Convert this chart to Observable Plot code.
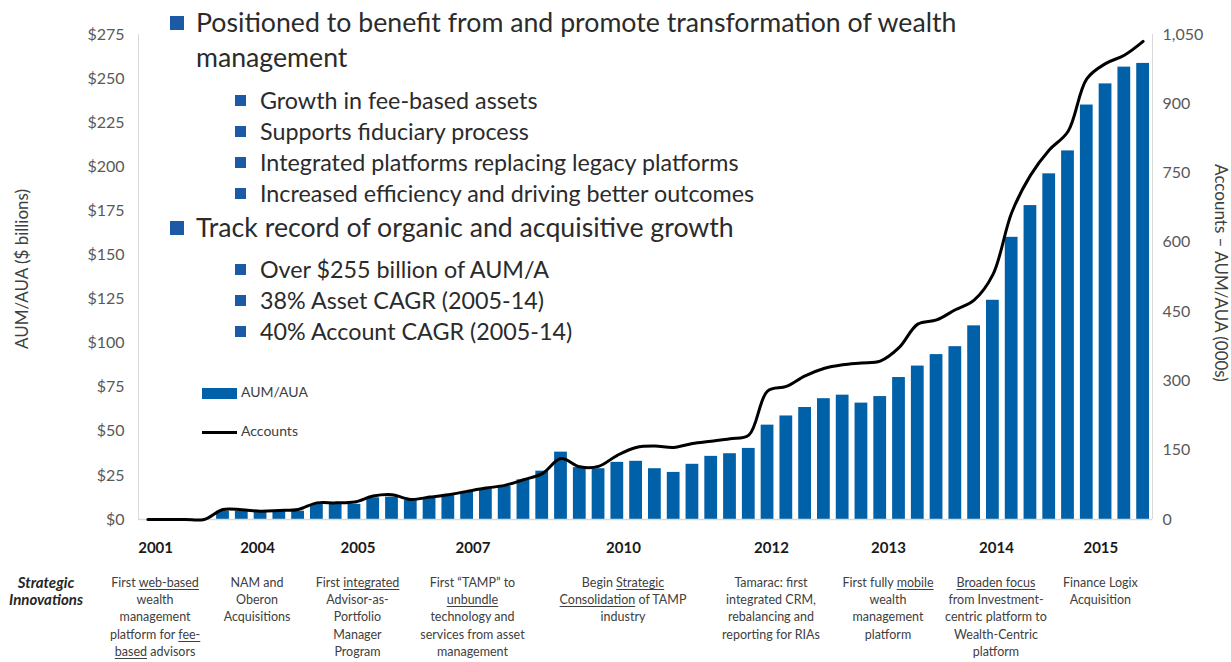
<!DOCTYPE html>
<html>
<head>
<meta charset="utf-8">
<script src="https://cdn.jsdelivr.net/npm/d3@7"></script>
<script src="https://cdn.jsdelivr.net/npm/@observablehq/plot@0.6"></script>
<style>
  html, body { margin: 0; padding: 0; background: #fff; }
  #wrap { position: relative; width: 1231px; height: 662px; overflow: hidden; font-family: Lato, "Open Sans", sans-serif; }
  #wrap svg { position: absolute; left: 0; top: 0; }
  .bullets { position: absolute; left: 0; top: 4.5px; color: #2b2b2b; }
  .l1 { position: relative; height: 35px; line-height: 35px; font-size: 26.7px; padding-left: 196px; white-space: nowrap; }
  .l2 { position: relative; height: 31px; line-height: 31px; font-size: 23.3px; padding-left: 260px; white-space: nowrap; }
  .l1.sq::before { content: ""; position: absolute; left: 170px; top: 11px; width: 14px; height: 14px; background: #1c5aa8; }
  .l2::before { content: ""; position: absolute; left: 235px; top: 10.5px; width: 11px; height: 11px; background: #1c5aa8; }
  .gapA { margin-top: 10px; }
  .gapB { margin-top: 1px; }
  .gapC { margin-top: 9px; }
  .legend { position: absolute; left: 202px; font-size: 14px; color: #404040; line-height: 20px; }
  .legend .sw { display: inline-block; vertical-align: middle; width: 35px; margin-right: 4px; }
  .innov { position: absolute; top: 574px; transform: translateX(-50%); text-align: center; white-space: nowrap; font-size: 12.5px; line-height: 17.2px; color: #404040; }
  .innov u { text-decoration-thickness: 1px; text-underline-offset: 2px; }
  .strat { position: absolute; left: 46px; top: 574px; transform: translateX(-50%); text-align: center; font-size: 15px; line-height: 17.2px; font-weight: bold; font-style: italic; color: #262626; }
</style>
</head>
<body>
<div id="wrap"></div>
<script>
// ---- data ----
const periods = d3.range(54); // quarterly/annual periods, 2001 .. 2015
const aumBillions = [0,0,0,0,4.7,4.7,4.4,4.7,4.7,8.5,8.5,8.6,12.3,12.7,10.8,12.3,14.2,15.5,17.4,18.8,22.5,27.4,38.2,29.4,28.8,32.4,33,28.8,26.7,31.3,35.8,37.3,40.3,53.5,58.7,63.5,68.5,70.5,66,69.7,80.5,87,93.5,98,109.8,124.3,160,178,196,209,235,247,256.5,258.6];
const accountsThousands = [0,0,0,0,21.7,21,18,19.6,21.7,36,36,37.7,50.7,53.6,43.5,48.5,53.6,60.9,68,73.9,86,99.3,132,114,115,139,156,159,156,164.5,169.6,175,182.6,278,288,311,327,335,339,343,372,423,432,454,475,530,664,745,800,840,954,987,1005,1035];
const aumTicks = [0,25,50,75,100,125,150,175,200,225,250,275];
const accountTicks = [0,150,300,450,600,750,900,1050];
const yearLabels = ["2001","2004","2005","2007","2010","2012","2013","2014","2015"];
const yearPos = [0.41,5.84,11.19,17.31,25.33,33.21,39.44,45.19,50.75];
const innovationTexts = [
  "First <u>web-based</u><br>wealth<br>management<br>platform for <u>fee-</u><br><u>based</u> advisors",
  "NAM and<br>Oberon<br>Acquisitions",
  "First <u>integrated</u><br>Advisor-as-<br>Portfolio<br>Manager<br>Program",
  "First “TAMP” to<br><u>unbundle</u><br>technology and<br>services from asset<br>management",
  "Begin <u>Strategic</u><br><u>Consolidation</u> of TAMP<br>industry",
  "Tamarac: first<br>integrated CRM,<br>rebalancing and<br>reporting for RIAs",
  "First fully <u>mobile</u><br>wealth<br>management<br>platform",
  "<u>Broaden focus</u><br>from Investment-<br>centric platform to<br>Wealth-Centric<br>platform",
  "Finance Logix<br>Acquisition"
];
const bulletMain1 = ["Positioned to benefit from and promote transformation of wealth", "management"];
const bulletSub1 = ["Growth in fee-based assets","Supports fiduciary process","Integrated platforms replacing legacy platforms","Increased efficiency and driving better outcomes"];
const bulletMain2 = "Track record of organic and acquisitive growth";
const bulletSub2 = ["Over $255 billion of AUM/A","38% Asset CAGR (2005-14)","40% Account CAGR (2005-14)"];
const seriesNames = ["AUM/AUA","Accounts"];
const leftTitle = "AUM/AUA ($ billions)";
const rightTitle = "Accounts – AUM/AUA (000s)";

// ---- chart ----
const accToAum = 275 / 1050;
const rows = periods.map(i => ({i, aum: aumBillions[i], acc: accountsThousands[i]}));
const barColor = "#0061A8";

const chart = Plot.plot({
  width: 1231, height: 662,
  marginLeft: 138, marginRight: 79, marginTop: 34, marginBottom: 143,
  style: {fontFamily: "Lato, 'Open Sans', sans-serif", fontSize: "16px", color: "#595959", background: "transparent"},
  x: {type: "linear", domain: [-0.5, 53.5], axis: null},
  y: {domain: [0, 275], axis: null},
  marks: [
    Plot.rectY(rows, {x1: d => d.i - 0.34, x2: d => d.i + 0.34, y: "aum", fill: barColor}),
    Plot.ruleX([-0.5, 53.5], {stroke: "#d9d9d9", strokeWidth: 1}),
    Plot.ruleY([0], {stroke: "#d9d9d9", strokeWidth: 1.5}),
    Plot.line(rows, {x: "i", y: d => d.acc * accToAum, stroke: "#000", strokeWidth: 3, curve: "catmull-rom"}),
    Plot.axisY(aumTicks, {anchor: "left", tickSize: 0, tickPadding: 14, tickFormat: d => "$" + d, fontSize: 16, label: null, fill: "#595959"}),
    Plot.axisY(accountTicks.map(a => a * accToAum), {anchor: "right", tickSize: 0, tickPadding: 10, textAnchor: "start", tickFormat: d => d3.format(",")(Math.round(d / accToAum)), fontSize: 16, label: null, fill: "#595959"}),
    Plot.axisX(yearPos, {tickSize: 0, tickPadding: 23, tickFormat: d => yearLabels[yearPos.indexOf(d)], fontWeight: "bold", fontSize: 15, fill: "#1a1a1a", label: null}),
    Plot.text([leftTitle], {frameAnchor: "left", textAnchor: "middle", lineAnchor: "middle", rotate: -90, dx: -116, dy: -8, fontSize: 17, fill: "#404040"}),
    Plot.text([rightTitle], {frameAnchor: "right", textAnchor: "middle", lineAnchor: "middle", rotate: 90, dx: 68, dy: -4, fontSize: 17, fill: "#404040"})
  ]
});

const wrap = document.getElementById("wrap");
wrap.appendChild(chart);

// bullets overlay
const b = document.createElement("div");
b.className = "bullets";
let html = "";
html += `<div class="l1 sq">${bulletMain1[0]}</div><div class="l1">${bulletMain1[1]}</div>`;
bulletSub1.forEach((t, k) => { html += `<div class="l2${k === 0 ? " gapA" : ""}">${t}</div>`; });
html += `<div class="l1 sq gapB">${bulletMain2}</div>`;
bulletSub2.forEach((t, k) => { html += `<div class="l2${k === 0 ? " gapC" : ""}">${t}</div>`; });
b.innerHTML = html;
wrap.appendChild(b);

// legend
const lg1 = document.createElement("div");
lg1.className = "legend"; lg1.style.top = "382px";
lg1.innerHTML = `<span class="sw" style="height:11px;background:${barColor}"></span>${seriesNames[0]}`;
wrap.appendChild(lg1);
const lg2 = document.createElement("div");
lg2.className = "legend"; lg2.style.top = "421px";
lg2.innerHTML = `<span class="sw" style="height:3px;background:#000"></span>${seriesNames[1]}`;
wrap.appendChild(lg2);

// strategic innovations row, positioned with the chart's x scale
const xs = chart.scale("x");
const st = document.createElement("div");
st.className = "strat";
st.innerHTML = "Strategic<br>Innovations";
wrap.appendChild(st);
innovationTexts.forEach((t, k) => {
  const d = document.createElement("div");
  d.className = "innov";
  d.style.left = xs.apply(yearPos[k]) + "px";
  d.innerHTML = t;
  wrap.appendChild(d);
});
</script>
</body>
</html>
